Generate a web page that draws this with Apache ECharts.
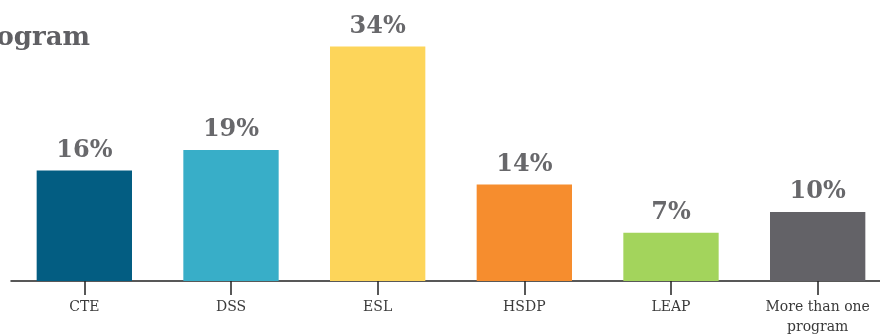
<!DOCTYPE html>
<html><head><meta charset="utf-8">
<script src="https://cdn.jsdelivr.net/npm/echarts@6/dist/echarts.min.js"></script>
<style>html,body{margin:0;padding:0;background:#fff}#c{width:880px;height:335px}</style>
</head><body><div id="c"></div>
<script>
const categories = ['CTE', 'DSS', 'ESL', 'HSDP', 'LEAP', 'More than one\nprogram'];
const values = [16, 19, 34, 14, 7, 10];
const colors = ['#035d82', '#38aec8', '#fdd55a', '#f68d2e', '#a3d45c', '#636267'];
const titleText = 'Students by program';

const chart = echarts.init(document.getElementById('c'));
chart.setOption({
  animation: false,
  graphic: [{
    type: 'text', right: 790, top: 25,
    style: { text: titleText, font: 'bold 26px "DejaVu Serif"', fill: '#5f5f63', textAlign: 'right' }
  }],
  grid: { left: 11, width: 880, top: 5, height: 276, outerBoundsMode: 'none', containLabel: false },
  xAxis: {
    type: 'category', data: categories,
    axisLine: { lineStyle: { color: '#222', width: 1.5 } },
    axisTick: { show: true, alignWithLabel: true, length: 14, lineStyle: { color: '#222', width: 1.5 } },
    axisLabel: { color: '#3a3a3a', fontFamily: 'DejaVu Serif', fontSize: 14, margin: 16, lineHeight: 20, interval: 0 }
  },
  yAxis: { type: 'value', min: 0, max: 40, show: false, splitLine: { show: false } },
  series: [{
    type: 'bar', barWidth: '65%',
    data: values.map((v, i) => ({ value: v, itemStyle: { color: colors[i] } })),
    label: {
      show: true, position: 'top', distance: 8, formatter: '{c}%',
      color: '#68686b', fontFamily: 'DejaVu Serif', fontWeight: 'bold', fontSize: 24
    }
  }]
});
</script></body></html>
